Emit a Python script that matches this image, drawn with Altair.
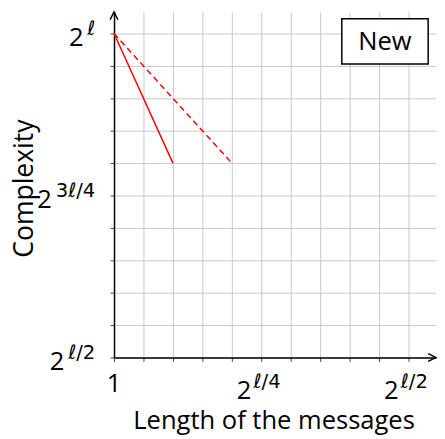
import altair as alt
import pandas as pd

# ---- data (exponent of 2, as a fraction of l) ----
series = ["solid", "solid", "dashed", "dashed"]
line_x = [0.0, 0.1, 0.0, 0.2]
line_y = [1.0, 0.8, 1.0, 0.8]

grid_x = [0.0, 0.05, 0.1, 0.15, 0.2, 0.25, 0.3, 0.35, 0.4, 0.45, 0.5]
grid_y = [0.5, 0.55, 0.6, 0.65, 0.7, 0.75, 0.8, 0.85, 0.9, 0.95, 1.0]

xlab_plain_val = [0.0]
xlab_plain_txt = ["1"]
xlab_val = [0.25, 0.5]
xlab_sup = ["ℓ/4", "ℓ/2"]

ylab_val = [0.5, 0.75, 1.0]
ylab_sup = ["ℓ/2", "3ℓ/4", "ℓ"]

x_title = "Length of the messages"
y_title = "Complexity"
legend_text = ["New"]

# ---- layout ----
W, H = 328, 352
X_MAX = 0.5 * W / 300
Y_MAX = 0.5 + 0.5 * H / 330
FONT = "Open Sans"
SUPFONT = "DejaVu Sans"
FS = 26
SFS = 20
RED = "#ff0000"

def sup_width(s):
    w = {"ℓ": 10, "/": 7, "2": 12.7, "3": 12.7, "4": 12.7}
    return sum(w.get(c, 12) for c in s)

xs = alt.Scale(domain=[0, X_MAX], nice=False, zero=False)
ys = alt.Scale(domain=[0.5, Y_MAX], nice=False, zero=False)

lines_df = pd.DataFrame({"s": series, "x": line_x, "y": line_y})

ax_style = dict(labels=False, title=None, grid=True, gridColor="#c8c8c8", gridWidth=1,
                domainColor="black", domainWidth=1.5, tickColor="#444", tickSize=4, tickWidth=1,
                tickCount=30)

base_axes = alt.Chart(pd.DataFrame({"x": [0.0], "y": [0.5]})).mark_point(opacity=0).encode(
    x=alt.X("x:Q", scale=xs, axis=alt.Axis(values=grid_x, **ax_style)),
    y=alt.Y("y:Q", scale=ys, axis=alt.Axis(values=grid_y, **ax_style)),
)

solid = alt.Chart(lines_df).transform_filter(alt.datum.s == "solid").mark_line(
    color=RED, strokeWidth=1.5).encode(x=alt.X("x:Q", scale=xs), y=alt.Y("y:Q", scale=ys))
dashed = alt.Chart(lines_df).transform_filter(alt.datum.s == "dashed").mark_line(
    color=RED, strokeWidth=1.5, strokeDash=[6, 4]).encode(x=alt.X("x:Q", scale=xs), y=alt.Y("y:Q", scale=ys))

# arrow heads
arrow_up = alt.Chart(pd.DataFrame({"x": [0.0], "y": [Y_MAX]})).mark_point(
    shape="M -0.5 1 L 0 0 L 0.5 1", size=256, filled=False, stroke="black", strokeWidth=1.5,
    opacity=1).encode(x=alt.X("x:Q", scale=xs), y=alt.Y("y:Q", scale=ys))
arrow_right = alt.Chart(pd.DataFrame({"x": [X_MAX], "y": [0.5]})).mark_point(
    shape="M -1 -0.5 L 0 0 L -1 0.5", size=256, filled=False, stroke="black", strokeWidth=1.5,
    opacity=1).encode(x=alt.X("x:Q", scale=xs), y=alt.Y("y:Q", scale=ys))

# x tick labels
xl_plain = alt.Chart(pd.DataFrame({"v": xlab_plain_val, "t": xlab_plain_txt})).mark_text(
    font=FONT, fontSize=FS, align="center", baseline="alphabetic", color="black").encode(
    x=alt.X("v:Q", scale=xs), y=alt.value(H + 35), text="t:N")
xl_df = pd.DataFrame({"v": xlab_val, "sup": xlab_sup, "b": ["2"] * len(xlab_val)})
xl_base = alt.Chart(xl_df).mark_text(
    font=FONT, fontSize=FS, align="right", baseline="alphabetic", dx=-10, color="black").encode(
    x=alt.X("v:Q", scale=xs), y=alt.value(H + 42), text="b:N")
xl_sup = alt.Chart(xl_df).mark_text(
    font=SUPFONT, fontSize=SFS, align="left", baseline="alphabetic", dx=-8, color="black").encode(
    x=alt.X("v:Q", scale=xs), y=alt.value(H + 31), text="sup:N")

# y tick labels
yl_layers = []
for v, s in zip(ylab_val, ylab_sup):
    d = pd.DataFrame({"v": [v], "sup": [s], "b": ["2"]})
    yl_layers.append(alt.Chart(d).mark_text(
        font=SUPFONT, fontSize=SFS, align="right", baseline="alphabetic", dy=2, color="black").encode(
        x=alt.value(-19), y=alt.Y("v:Q", scale=ys), text="sup:N"))
    yl_layers.append(alt.Chart(d).mark_text(
        font=FONT, fontSize=FS, align="right", baseline="alphabetic", dy=13, color="black").encode(
        x=alt.value(-21 - sup_width(s)), y=alt.Y("v:Q", scale=ys), text="b:N"))

# axis titles
xt = alt.Chart(pd.DataFrame({"t": [x_title]})).mark_text(
    font=FONT, fontSize=FS, align="center", baseline="alphabetic", color="black").encode(
    x=alt.value(163), y=alt.value(425), text="t:N")
yt = alt.Chart(pd.DataFrame({"t": [y_title]})).mark_text(
    font=FONT, fontSize=27, align="center", baseline="alphabetic", angle=270, color="black").encode(
    x=alt.value(-83), y=alt.value(180), text="t:N")

# legend box
box = alt.Chart(pd.DataFrame({"t": legend_text})).mark_rect(
    fill="white", stroke="black", strokeWidth=1.5).encode(
    x=alt.value(232), x2=alt.value(320), y=alt.value(7), y2=alt.value(53))
box_t = alt.Chart(pd.DataFrame({"t": legend_text})).mark_text(
    font=FONT, fontSize=FS, align="center", baseline="middle", color="black").encode(
    x=alt.value(276), y=alt.value(31), text="t:N")

chart = alt.layer(base_axes, solid, dashed, arrow_up, arrow_right, xl_plain, xl_base, xl_sup,
                  *yl_layers, xt, yt, box, box_t).properties(
    width=W, height=H,
    autosize=alt.AutoSizeParams(type="none"),
    padding={"left": 108, "top": 0, "right": 1, "bottom": 78},
).configure_view(stroke=None)

chart.save("out.html", embed_options={"renderer": "svg", "actions": False})
